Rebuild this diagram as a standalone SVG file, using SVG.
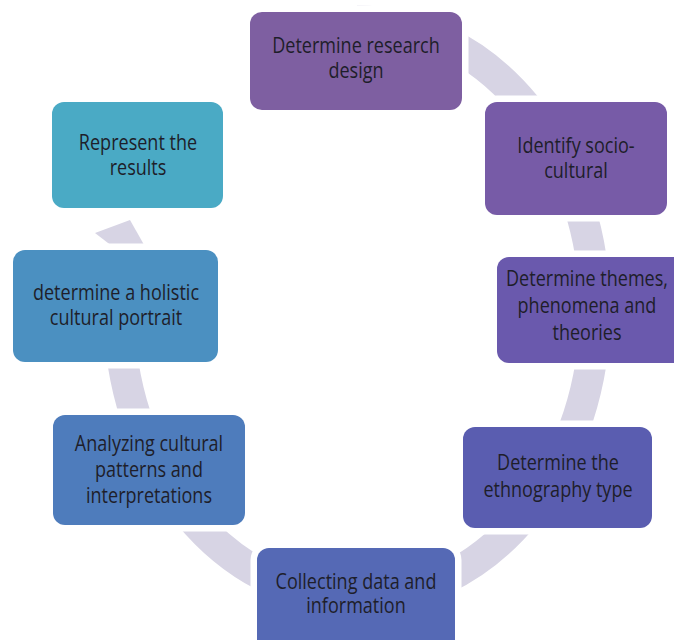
<svg xmlns="http://www.w3.org/2000/svg" width="674" height="640" viewBox="0 0 674 640">
<style>
.node rect{stroke:#ffffff;stroke-width:13;paint-order:stroke fill;}
.node text{font-family:"Open Sans","Noto Sans",sans-serif;font-size:22px;fill:#1e1e2a;text-anchor:middle;}
.band{fill:none;stroke:#d7d4e4;stroke-width:31;}
.head{fill:#d7d4e4;}
</style>
<rect width="674" height="640" fill="#ffffff"/>
<g id="connectors">
<path class="band" d="M 357 21 A 238 289 0 1 1 119 310"/>
<polygon class="head" points="95,233 130,220 151.5,258 127.5,258"/>
</g>
<g id="n1" class="node">
<rect x="250" y="12" width="212" height="98" rx="12" fill="#7e5fa1"/>
<text transform="translate(356 0) scale(0.82 1)"><tspan x="0" y="53">Determine research</tspan><tspan x="0" y="78">design</tspan></text>
</g>
<g id="n2" class="node">
<rect x="485" y="102" width="182" height="113" rx="12" fill="#775ba7"/>
<text transform="translate(576 0) scale(0.82 1)"><tspan x="0" y="153">Identify socio-</tspan><tspan x="0" y="178">cultural</tspan></text>
</g>
<g id="n3" class="node">
<rect x="497" y="257" width="210" height="106" rx="12" fill="#6a59ad"/>
<text transform="translate(587 0) scale(0.82 1)"><tspan x="0" y="286">Determine themes,</tspan><tspan x="0" y="313">phenomena and</tspan><tspan x="0" y="340">theories</tspan></text>
</g>
<g id="n4" class="node">
<rect x="463" y="427" width="189" height="101" rx="12" fill="#5a5db0"/>
<text transform="translate(558 0) scale(0.82 1)"><tspan x="0" y="470">Determine the</tspan><tspan x="0" y="497">ethnography type</tspan></text>
</g>
<g id="n5" class="node">
<rect x="257" y="548" width="198" height="110" rx="12" fill="#5569b5"/>
<text transform="translate(356 0) scale(0.82 1)"><tspan x="0" y="589">Collecting data and</tspan><tspan x="0" y="613">information</tspan></text>
</g>
<g id="n6" class="node">
<rect x="53" y="415" width="192" height="110" rx="12" fill="#4e7cbc"/>
<text transform="translate(149 0) scale(0.82 1)"><tspan x="0" y="451">Analyzing cultural</tspan><tspan x="0" y="477">patterns and</tspan><tspan x="0" y="503">interpretations</tspan></text>
</g>
<g id="n7" class="node">
<rect x="13" y="250" width="205" height="112" rx="12" fill="#4b90c1"/>
<text transform="translate(116 0) scale(0.82 1)"><tspan x="0" y="300">determine a holistic</tspan><tspan x="0" y="325">cultural portrait</tspan></text>
</g>
<g id="n8" class="node">
<rect x="52" y="102" width="171" height="106" rx="12" fill="#4aaac5"/>
<text transform="translate(138 0) scale(0.82 1)"><tspan x="0" y="150">Represent the</tspan><tspan x="0" y="175">results</tspan></text>
</g>
</svg>
